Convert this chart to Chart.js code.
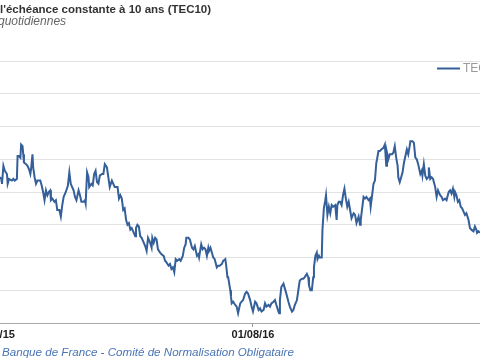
<!DOCTYPE html>
<html><head><meta charset="utf-8">
<script src="https://cdn.jsdelivr.net/npm/chart.js@4"></script>
<style>html,body{margin:0;padding:0;background:#fff;overflow:hidden}#wrap{width:480px;height:360px;position:relative}</style>
</head><body><div id="wrap"><canvas id="c" width="480" height="360"></canvas></div>
<script>
const titleText = "l'échéance constante à 10 ans (TEC10)";
const subtitleText = "quotidiennes";
const sourceText = "Banque de France - Comité de Normalisation Obligataire";
const seriesName = "TEC10";
// x values: days since 01/08/2015
const tickLabels = ['01/08/15', '01/08/16'];
const tickDays = [0, 366];
const viewStartDay = 9.2;
const viewEndDay = 686.2;
const yMin = 0, yMax = 1.6, yStep = 0.2;

const dayOffsets = [
9,11,12,14,16,19,20,22,26,28,30,33,34,36,38,39,41,42,43,46,48,50,52,53,55,56,58,60,62,66,68,70,72,74,76,78,80,81,83,86,88,90,93,95,97,99,102,105,107,109,111,113,115,117,120,122,124,127,129,130,132,134,135,138,140,142,144,146,148,150,153,155,157,160,162,164,167,169,171,175,177,
179,181,183,185,187,189,191,193,195,197,200,201,203,205,207,209,211,214,216,218,221,223,224,226,228,230,232,235,237,240,242,244,247,249,251,253,255,257,259,262,264,267,269,271,272,275,277,280,282,284,287,289,290,293,295,297,299,301,303,304,306,308,310,312,315,317,319,322,324,327,328,330,331,334,335,336,338,341,343,345,
348,350,352,355,357,359,362,364,366,369,371,374,376,378,381,383,385,388,390,392,395,397,399,402,403,404,406,409,411,413,416,418,421,423,425,428,430,432,435,437,439,442,444,445,447,449,451,452,454,456,457,459,460,463,464,466,468,469,471,473,475,477,479,482,484,485,487,489,491,493,495,497,499,501,503,505,507,508,510,512,515,
517,518,520,522,524,526,529,531,532,534,536,538,540,541,543,545,547,550,552,554,555,557,559,562,564,566,568,570,571,573,575,577,579,581,583,585,587,588,591,593,595,597,599,602,604,605,607,609,611,613,614,616,618,620,623,625,627,630,632,634,637,639,642,644,646,648,650,651,653,655,657,659,661,663,665,667,670,672,674,677,679,681,682,684,686
];
const tec10Values = [
0.89,0.88,0.85,0.96,0.93,0.91,0.85,0.88,0.87,0.88,0.87,0.88,1.02,1.02,1.01,1.09,1.08,1.03,0.98,0.97,0.96,0.94,0.91,0.94,1.03,0.95,0.89,0.85,0.87,0.87,0.84,0.80,0.75,0.81,0.78,0.80,0.81,0.75,0.76,0.74,0.75,0.69,0.69,0.65,0.72,0.77,0.80,0.84,0.92,0.85,0.83,0.81,0.77,0.75,0.81,0.78,0.74,0.74,0.75,0.73,0.92,0.89,0.83,0.85,0.84,0.91,0.93,0.86,0.85,0.90,0.91,0.91,0.97,0.95,0.89,0.83,0.87,0.85,0.83,0.83,0.76,
0.78,0.76,0.69,0.70,0.63,0.60,0.61,0.57,0.58,0.56,0.53,0.58,0.60,0.59,0.53,0.52,0.50,0.47,0.44,0.52,0.49,0.46,0.52,0.49,0.52,0.51,0.45,0.43,0.42,0.41,0.38,0.37,0.35,0.36,0.33,0.34,0.31,0.39,0.38,0.39,0.38,0.41,0.46,0.48,0.52,0.52,0.51,0.46,0.45,0.47,0.41,0.42,0.40,0.48,0.45,0.46,0.45,0.41,0.46,0.44,0.46,0.43,0.40,0.39,0.34,0.35,0.35,0.36,0.38,0.39,0.36,0.28,0.28,0.20,0.16,0.12,0.13,0.11,0.10,0.06,
0.12,0.13,0.14,0.18,0.19,0.18,0.14,0.10,0.07,0.13,0.12,0.08,0.09,0.07,0.08,0.12,0.10,0.11,0.10,0.12,0.13,0.14,0.11,0.07,0.06,0.14,0.22,0.24,0.21,0.18,0.13,0.10,0.07,0.08,0.11,0.14,0.20,0.26,0.27,0.27,0.28,0.30,0.28,0.23,0.20,0.20,0.28,0.34,0.41,0.43,0.39,0.41,0.40,0.40,0.57,0.70,0.75,0.78,0.66,0.71,0.67,0.72,0.71,0.72,0.63,0.72,0.74,0.74,0.72,0.78,0.82,0.76,0.71,0.74,0.69,0.64,0.66,0.67,0.66,0.61,0.65,
0.60,0.63,0.70,0.77,0.76,0.77,0.75,0.76,0.71,0.78,0.85,0.87,0.98,1.00,1.05,1.05,1.06,1.07,1.09,0.96,1.04,1.00,1.03,1.03,1.04,1.08,1.01,0.96,0.89,0.86,0.89,0.92,0.98,1.02,1.06,1.03,1.08,1.11,1.11,1.10,1.01,1.00,0.97,0.91,0.93,0.90,0.97,0.90,0.88,0.89,0.95,0.88,0.89,0.88,0.83,0.77,0.81,0.78,0.77,0.75,0.76,0.75,0.80,0.81,0.79,0.82,0.77,0.80,0.78,0.74,0.75,0.71,0.70,0.68,0.66,0.67,0.63,0.58,0.57,0.56,0.59,0.57,0.55,0.56,0.55
];

const lineColor = '#345f99';
const FONT = "'Liberation Sans', Arial, sans-serif";
const TICK_LEN = 4, TICK_PAD = 1;

const textPlugin = {
  id: 'texts',
  afterDraw(chart) {
    const ctx = chart.ctx;
    const xs = chart.scales.x;
    ctx.save();
    // title
    ctx.textAlign = 'left';
    ctx.textBaseline = 'alphabetic';
    ctx.fillStyle = '#333333';
    ctx.font = "bold 11.5px " + FONT;
    ctx.fillText(titleText, 0, 13);
    // subtitle
    ctx.fillStyle = '#666666';
    ctx.font = "italic 12px " + FONT;
    ctx.fillText(subtitleText, -2, 25);
    // source
    ctx.fillStyle = '#4a74b5';
    ctx.font = "italic 11.6px " + FONT;
    ctx.fillText(sourceText, 2, 356);
    // legend
    ctx.strokeStyle = lineColor;
    ctx.lineWidth = 2;
    ctx.beginPath();
    ctx.moveTo(437, 68.5);
    ctx.lineTo(460, 68.5);
    ctx.stroke();
    ctx.fillStyle = '#999999';
    ctx.font = "12px " + FONT;
    ctx.textBaseline = 'middle';
    ctx.fillText(seriesName, 463, 69);
    // first tick label (left of visible plot)
    ctx.fillStyle = '#222222';
    ctx.font = "bold 11px " + FONT;
    ctx.textAlign = 'center';
    ctx.textBaseline = 'middle';
    const px = xs.getPixelForValue(tickDays[0]);
    ctx.fillText(tickLabels[0], px, xs.top + TICK_LEN + TICK_PAD + 6.6);
    ctx.restore();
  }
};

new Chart(document.getElementById('c'), {
  type: 'line',
  data: {
    datasets: [{
      label: seriesName,
      data: dayOffsets.map((d, i) => ({ x: d, y: tec10Values[i] })),
      borderColor: lineColor,
      borderWidth: 2,
      pointRadius: 0,
      tension: 0,
      fill: false
    }]
  },
  options: {
    responsive: false,
    animation: false,
    devicePixelRatio: 1,
    layout: { padding: { top: 61, left: 0, right: 0, bottom: 0 } },
    plugins: { legend: { display: false }, title: { display: false }, tooltip: { enabled: false } },
    scales: {
      x: {
        type: 'linear',
        min: viewStartDay,
        max: viewEndDay,
        afterBuildTicks: s => { s.ticks = tickDays.filter(d => d >= s.min && d <= s.max).map(v => ({ value: v })); },
        afterFit: s => { s.height = 37; },
        ticks: {
          autoSkip: false, maxRotation: 0, padding: TICK_PAD, color: '#222222',
          font: { family: FONT, size: 11, weight: 'bold' },
          callback: v => tickLabels[tickDays.indexOf(v)]
        },
        grid: { drawOnChartArea: false, drawTicks: true, tickLength: TICK_LEN, color: '#999999' },
        border: { color: '#a8a8a8' }
      },
      y: {
        min: yMin, max: yMax,
        afterFit: s => { s.width = 0; },
        ticks: { display: false, stepSize: yStep },
        grid: { color: '#e2e2e2', drawTicks: false },
        border: { display: false }
      }
    }
  },
  plugins: [textPlugin]
});
</script>
</body></html>
